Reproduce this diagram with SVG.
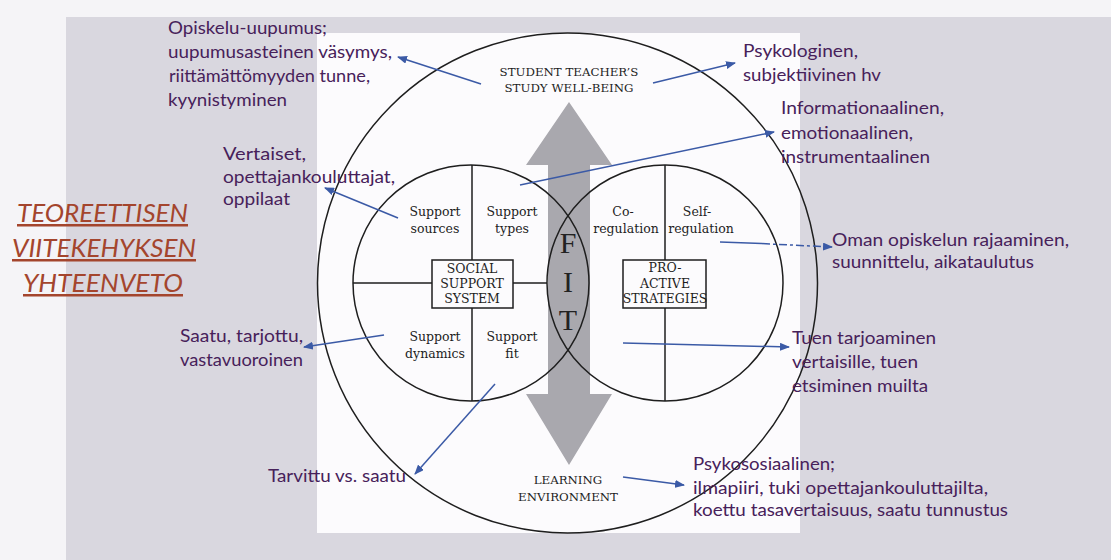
<svg xmlns="http://www.w3.org/2000/svg" width="1111" height="560" viewBox="0 0 1111 560">
<defs>
<style>
.fi{font-family:Lato,"Open Sans","Liberation Sans",sans-serif;font-size:18px;fill:#47215a}
.ttl{font-family:Lato,"Liberation Sans",sans-serif;font-size:25px;font-style:italic;fill:#a4452d;text-decoration:underline}
.sf{font-family:"DejaVu Serif","Liberation Serif",serif;font-size:12.5px;fill:#1e1e1e;text-anchor:middle}
.cap{font-family:"DejaVu Serif","Liberation Serif",serif;font-size:11.8px;fill:#1e1e1e;text-anchor:middle}
.fit{font-family:"Liberation Serif",serif;font-size:30px;fill:#222;text-anchor:middle}
.ln{fill:none;stroke:#1e1e1e;stroke-width:1.5}
.bl{fill:none;stroke:#3b5aa6;stroke-width:1.5;marker-end:url(#ah)}
</style>
<marker id="ah" markerWidth="10" markerHeight="8" refX="9" refY="4" orient="auto" markerUnits="userSpaceOnUse">
<path d="M0,0 L10,4 L0,8 z" fill="#3b5aa6"/>
</marker>
</defs>
<rect x="0" y="0" width="1111" height="560" fill="#f5f4f7"/>
<rect x="66" y="17" width="1045" height="543" fill="#d9d7df"/>
<rect x="317" y="33" width="483" height="500" fill="#fcfbfd"/>

<g id="title">
<text class="ttl" x="17" y="222" textLength="171" lengthAdjust="spacingAndGlyphs">TEOREETTISEN</text>
<text class="ttl" x="12" y="257" textLength="184" lengthAdjust="spacingAndGlyphs">VIITEKEHYKSEN</text>
<text class="ttl" x="23" y="292" textLength="160" lengthAdjust="spacingAndGlyphs">YHTEENVETO</text>
</g>

<g id="fit-arrow">
<polygon points="569,102 612,165 590,165 590,394 612,394 569,465 526,394 548,394 548,165 526,165" fill="#a9a8ae"/>
</g>

<g id="outer-circle">
<circle class="ln" cx="567.5" cy="283" r="250"/>
<text class="cap" x="569" y="76">STUDENT TEACHER’S</text>
<text class="cap" x="569" y="92">STUDY WELL-BEING</text>
<text class="cap" x="568" y="484">LEARNING</text>
<text class="cap" x="568" y="501">ENVIRONMENT</text>
</g>

<g id="social-support">
<circle class="ln" cx="471" cy="283" r="118"/>
<line class="ln" x1="472" y1="165" x2="472" y2="260"/>
<line class="ln" x1="472" y1="308" x2="472" y2="401"/>
<line class="ln" x1="353" y1="283" x2="432" y2="283"/>
<line class="ln" x1="513" y1="283" x2="547" y2="283"/>
<rect class="ln" x="432" y="260" width="81" height="48" fill="#fcfbfd"/>
<text class="sf" x="472" y="273" font-size="12">SOCIAL</text>
<text class="sf" x="472" y="288" font-size="12">SUPPORT</text>
<text class="sf" x="472" y="303" font-size="12">SYSTEM</text>
<text class="sf" x="435" y="216">Support</text>
<text class="sf" x="435" y="233">sources</text>
<text class="sf" x="512" y="216">Support</text>
<text class="sf" x="512" y="233">types</text>
<text class="sf" x="435" y="341">Support</text>
<text class="sf" x="435" y="358">dynamics</text>
<text class="sf" x="512" y="341">Support</text>
<text class="sf" x="512" y="358">fit</text>
</g>

<g id="proactive">
<circle class="ln" cx="665" cy="283" r="118"/>
<line class="ln" x1="665" y1="165" x2="665" y2="260"/>
<line class="ln" x1="665" y1="308" x2="665" y2="401"/>
<rect class="ln" x="623" y="260" width="83" height="48" fill="#fcfbfd"/>
<text class="sf" x="665" y="272" font-size="11.5">PRO-</text>
<text class="sf" x="665" y="287.5" font-size="11.5">ACTIVE</text>
<text class="sf" x="665" y="303" font-size="11.5">STRATEGIES</text>
<text class="sf" x="623" y="216">Co-</text>
<text class="sf" x="626" y="233">regulation</text>
<text class="sf" x="697" y="216">Self-</text>
<text class="sf" x="701" y="233">regulation</text>
</g>

<g id="fit">
<text class="fit" x="568" y="253">F</text>
<text class="fit" x="568" y="292">I</text>
<text class="fit" x="568" y="330">T</text>
</g>

<g id="connectors">
<line class="bl" x1="481" y1="84" x2="398" y2="57"/>
<line class="bl" x1="653" y1="83" x2="735" y2="63"/>
<line class="bl" x1="520" y1="185" x2="774" y2="132"/>
<line class="bl" x1="398" y1="218" x2="325" y2="188"/>
<line class="bl" x1="384" y1="335" x2="304" y2="347"/>
<line class="bl" x1="495" y1="384" x2="415" y2="474"/>
<line x1="720" y1="242" x2="762" y2="243.6" stroke="#3b5aa6" stroke-width="1.5"/>
<line class="bl" x1="762" y1="243.6" x2="832" y2="247" stroke-dasharray="8,3,3,3"/>
<line class="bl" x1="623" y1="343" x2="789" y2="347"/>
<line class="bl" x1="623" y1="477" x2="684" y2="485"/>
</g>

<g id="label-uupumus">
<text class="fi" x="168" y="34" textLength="159" lengthAdjust="spacingAndGlyphs">Opiskelu-uupumus;</text>
<text class="fi" x="168" y="58" textLength="224" lengthAdjust="spacingAndGlyphs">uupumusasteinen väsymys,</text>
<text class="fi" x="169" y="82" textLength="201" lengthAdjust="spacingAndGlyphs">riittämättömyyden tunne,</text>
<text class="fi" x="168" y="106" textLength="119" lengthAdjust="spacingAndGlyphs">kyynistyminen</text>
</g>
<g id="label-psykologinen">
<text class="fi" x="743" y="57" textLength="115" lengthAdjust="spacingAndGlyphs">Psykologinen,</text>
<text class="fi" x="743" y="81" textLength="138" lengthAdjust="spacingAndGlyphs">subjektiivinen hv</text>
</g>
<g id="label-informationaalinen">
<text class="fi" x="781" y="114" textLength="163" lengthAdjust="spacingAndGlyphs">Informationaalinen,</text>
<text class="fi" x="781" y="139" textLength="132" lengthAdjust="spacingAndGlyphs">emotionaalinen,</text>
<text class="fi" x="781" y="163" textLength="149" lengthAdjust="spacingAndGlyphs">instrumentaalinen</text>
</g>
<g id="label-vertaiset">
<text class="fi" x="223" y="160" textLength="83" lengthAdjust="spacingAndGlyphs">Vertaiset,</text>
<text class="fi" x="223" y="183" textLength="172" lengthAdjust="spacingAndGlyphs">opettajankouluttajat,</text>
<text class="fi" x="223" y="205" textLength="67" lengthAdjust="spacingAndGlyphs">oppilaat</text>
</g>
<g id="label-saatu">
<text class="fi" x="180" y="342" textLength="123" lengthAdjust="spacingAndGlyphs">Saatu, tarjottu,</text>
<text class="fi" x="180" y="366" textLength="123" lengthAdjust="spacingAndGlyphs">vastavuoroinen</text>
</g>
<g id="label-tarvittu">
<text class="fi" x="268" y="482" textLength="138" lengthAdjust="spacingAndGlyphs">Tarvittu vs. saatu</text>
</g>
<g id="label-oman">
<text class="fi" x="832" y="246" textLength="237" lengthAdjust="spacingAndGlyphs">Oman opiskelun rajaaminen,</text>
<text class="fi" x="832" y="268" textLength="202" lengthAdjust="spacingAndGlyphs">suunnittelu, aikataulutus</text>
</g>
<g id="label-tuen">
<text class="fi" x="792" y="344" textLength="144" lengthAdjust="spacingAndGlyphs">Tuen tarjoaminen</text>
<text class="fi" x="792" y="368" textLength="126" lengthAdjust="spacingAndGlyphs">vertaisille, tuen</text>
<text class="fi" x="792" y="392" textLength="136" lengthAdjust="spacingAndGlyphs">etsiminen muilta</text>
</g>
<g id="label-psykososiaalinen">
<text class="fi" x="693" y="470" textLength="142" lengthAdjust="spacingAndGlyphs">Psykososiaalinen;</text>
<text class="fi" x="693" y="494" textLength="295" lengthAdjust="spacingAndGlyphs">ilmapiiri, tuki opettajankouluttajilta,</text>
<text class="fi" x="693" y="516" textLength="315" lengthAdjust="spacingAndGlyphs">koettu tasavertaisuus, saatu tunnustus</text>
</g>
</svg>
